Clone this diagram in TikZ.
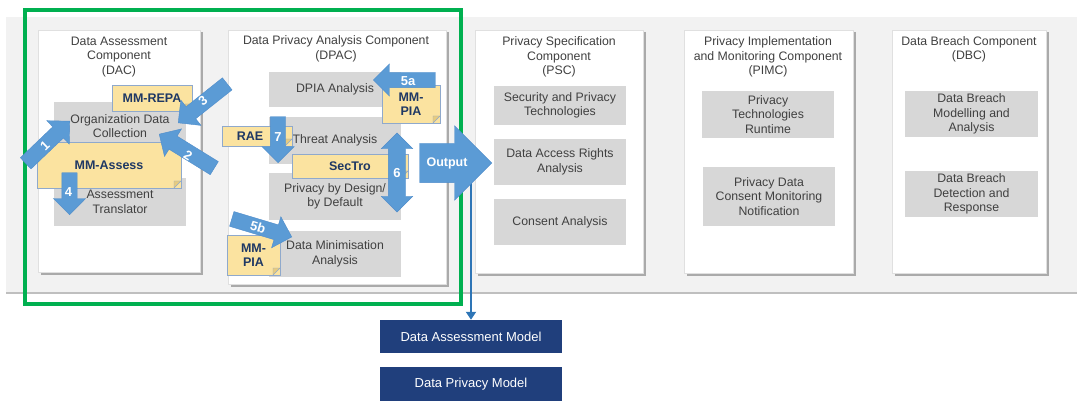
\documentclass[tikz,border=0pt]{standalone}
\usepackage{fontspec}
\setmainfont{Liberation Sans}
\usetikzlibrary{positioning, shapes.arrows, shadows, arrows.meta}
\definecolor{bandgray}{HTML}{F2F2F2}
\definecolor{modgray}{HTML}{D7D7D7}
\definecolor{inkgray}{HTML}{404040}
\definecolor{flowblue}{HTML}{5B9BD5}
\definecolor{flowedge}{HTML}{4F8DCB}
\definecolor{memofill}{HTML}{FBE3A0}
\definecolor{memoedge}{HTML}{8FA9CC}
\definecolor{memofold}{HTML}{E6CB80}
\definecolor{memoink}{HTML}{1F3864}
\definecolor{framegreen}{HTML}{00B050}
\definecolor{modelnavy}{HTML}{203F7C}
\definecolor{linkblue}{HTML}{2E75B6}
\tikzset{
every node/.style={font=\fontsize{12.3}{14.6}\selectfont, text=inkgray, align=center, inner sep=0pt}, % plain text everywhere
component/.style={draw=black!12, line width=.4pt, fill=white, drop shadow={shadow xshift=2.5pt, shadow yshift=-2.5pt, fill=black!45, opacity=.7}}, % white component card
module/.style={fill=modgray, minimum width=132pt}, % grey sub-module
memo/.style={draw=memoedge, fill=memofill, text=memoink, font=\fontsize{12.5}{13.5}\selectfont\bfseries,
  path picture={\fill[memofold, draw=memoedge, line width=.4pt] ([xshift=-7pt]path picture bounding box.south east) -- ([yshift=7pt]path picture bounding box.south east) -- ([xshift=-7pt, yshift=7pt]path picture bounding box.south east) -- cycle;}}, % yellow note with folded corner
flow/.style={single arrow, fill=flowblue, draw=flowedge, line width=.4pt, inner ysep=7.5pt, single arrow head extend=8.5pt, anchor=tip}, % blue block arrow
flowboth/.style={double arrow, fill=flowblue, draw=flowedge, line width=.4pt, inner ysep=8.5pt, double arrow head extend=7pt}, % two-headed block arrow
flowtext/.style={text=white, font=\fontsize{13}{13}\selectfont\bfseries}, % number on an arrow
model/.style={fill=modelnavy, text=white, minimum width=182pt, font=\fontsize{13}{15}\selectfont}, % navy model box
link/.style={draw=linkblue, line width=2.6pt}
}
\begin{document}
\begin{tikzpicture}[x=1pt, y=-1pt]
\useasboundingbox (0,0) rectangle (1077,401);
% background band
\fill[bandgray] (6,17) rectangle (1077,293);
\draw[black!25, line width=1.2pt] (6,293) -- (1077,293);
\draw[framegreen, line width=4pt] (24.5,10) rectangle (460.5,304);

% DAC
\node[component, minimum width=162pt, minimum height=242pt] (dac) at (119,151) {};
\node (dact) at (119,57) {Data Assessment\\Component\\(DAC)};
\node[module, minimum height=48pt] (odc) at (120,126) {Organization Data\\Collection};
\node[module, minimum height=48pt] (atr) at (120,202) {Assessment\\Translator};
\node[memo, minimum width=80pt, minimum height=26pt] (repa) at (152,98) {MM-REPA};
\node[memo, minimum width=144pt, minimum height=46pt] (assess) at (109,165) {MM-Assess};

% DPAC
\node[component, minimum width=218pt, minimum height=254pt] (dpac) at (337,157) {};
\node (dpact) at (336,49) {Data Privacy Analysis Component\\(DPAC)};
\node[module, minimum height=35pt] (dpia) at (335,89.5) {DPIA Analysis};
\node[module, minimum height=47pt] (threat) at (335,140.5) {Threat Analysis};
\node[module, minimum height=47pt] (pbd) at (335,196.5) {Privacy by Design/\\by Default};
\node[module, minimum height=46pt] (dmin) at (335,254) {Data Minimisation\\Analysis};
\node[memo, minimum width=58pt, minimum height=38pt] (piaa) at (411,104) {MM-\\PIA};
\node[memo, minimum width=70pt, minimum height=20pt] (rae) at (257,136) {RAE\hspace*{14pt}};
\node[memo, minimum width=116pt, minimum height=24pt] (sectro) at (350,166) {SecTro};
\node[memo, minimum width=53pt, minimum height=40pt] (piab) at (253.5,255) {MM-\\PIA};

% PSC
\node[component, minimum width=168pt, minimum height=243pt] (psc) at (559,151.5) {};
\node (psct) at (559,57) {Privacy Specification\\Component\\(PSC)};
\node[module, minimum height=39pt] (spt) at (560,105.5) {Security and Privacy\\Technologies};
\node[module, minimum height=46pt] (dar) at (560,162) {Data Access Rights\\Analysis};
\node[module, minimum height=46pt] (cons) at (560,222) {Consent Analysis};

% PIMC
\node[component, minimum width=169pt, minimum height=243pt] (pimc) at (768.5,151.5) {};
\node (pimct) at (768,57) {Privacy Implementation\\and Monitoring Component\\(PIMC)};
\node[module, minimum height=47pt] (ptr) at (768,114.5) {Privacy\\Technologies\\Runtime};
\node[module, minimum height=59pt] (pdc) at (769,196.5) {Privacy Data\\Consent Monitoring\\Notification};

% DBC
\node[component, minimum width=154pt, minimum height=243pt] (dbc) at (969,151.5) {};
\node (dbct) at (969,49.5) {Data Breach Component\\(DBC)};
\node[module, minimum width=133pt, minimum height=46pt] (dbm) at (971.5,114) {Data Breach\\Modelling and\\Analysis};
\node[module, minimum width=133pt, minimum height=46pt] (dbd) at (971.5,194) {Data Breach\\Detection and\\Response};

% models
\node[model, minimum height=33pt] (dam) at (471,336.5) {Data Assessment Model};
\node[model, minimum height=34pt] (dpm) at (471,384) {Data Privacy Model};
\coordinate (outfoot) at (471,172);
\draw[link, -{Triangle[width=10pt, length=8pt]}] (outfoot) -- (dam.north);

% numbered arrows
\node[flow, minimum height=61pt, rotate=43.7] (f1) at (70,121) {};
\node[flow, minimum height=64.7pt, rotate=148.3] (f2) at (159,134) {};
\node[flow, minimum height=62.6pt, rotate=218.5] (f3) at (178,123) {};
\node[flow, minimum height=42pt, rotate=-90] (f4) at (69.5,215) {};
\node[flow, minimum height=62pt, rotate=180] (f5a) at (373,80) {};
\node[flow, minimum height=62.6pt, rotate=-16.7] (f5b) at (292,237) {};
\node[flowboth, minimum height=79pt, rotate=90] (f6) at (397,172.5) {};
\node[flow, minimum height=46pt, rotate=-90] (f7) at (278,163) {};
\node[flow, inner ysep=19.5pt, single arrow head extend=17.5pt, minimum height=72pt] (out) at (492,163) {};
\node[flowtext, rotate=43.7] (t1) at (45,146) {1};
\node[flowtext, rotate=-31.7] (t2) at (188,156) {2};
\node[flowtext, rotate=38.5] (t3) at (203,101) {3};
\node[flowtext] (t4) at (68.5,192) {4};
\node[flowtext] (t5a) at (408,81) {5a};
\node[flowtext, rotate=-16.7] (t5b) at (258,227) {5b};
\node[flowtext] (t6) at (397,173) {6};
\node[flowtext] (t7) at (278,137) {7};
\node[flowtext, font=\fontsize{12.5}{13}\selectfont\bfseries] (tout) at (447,163) {Output};
\end{tikzpicture}
\end{document}
